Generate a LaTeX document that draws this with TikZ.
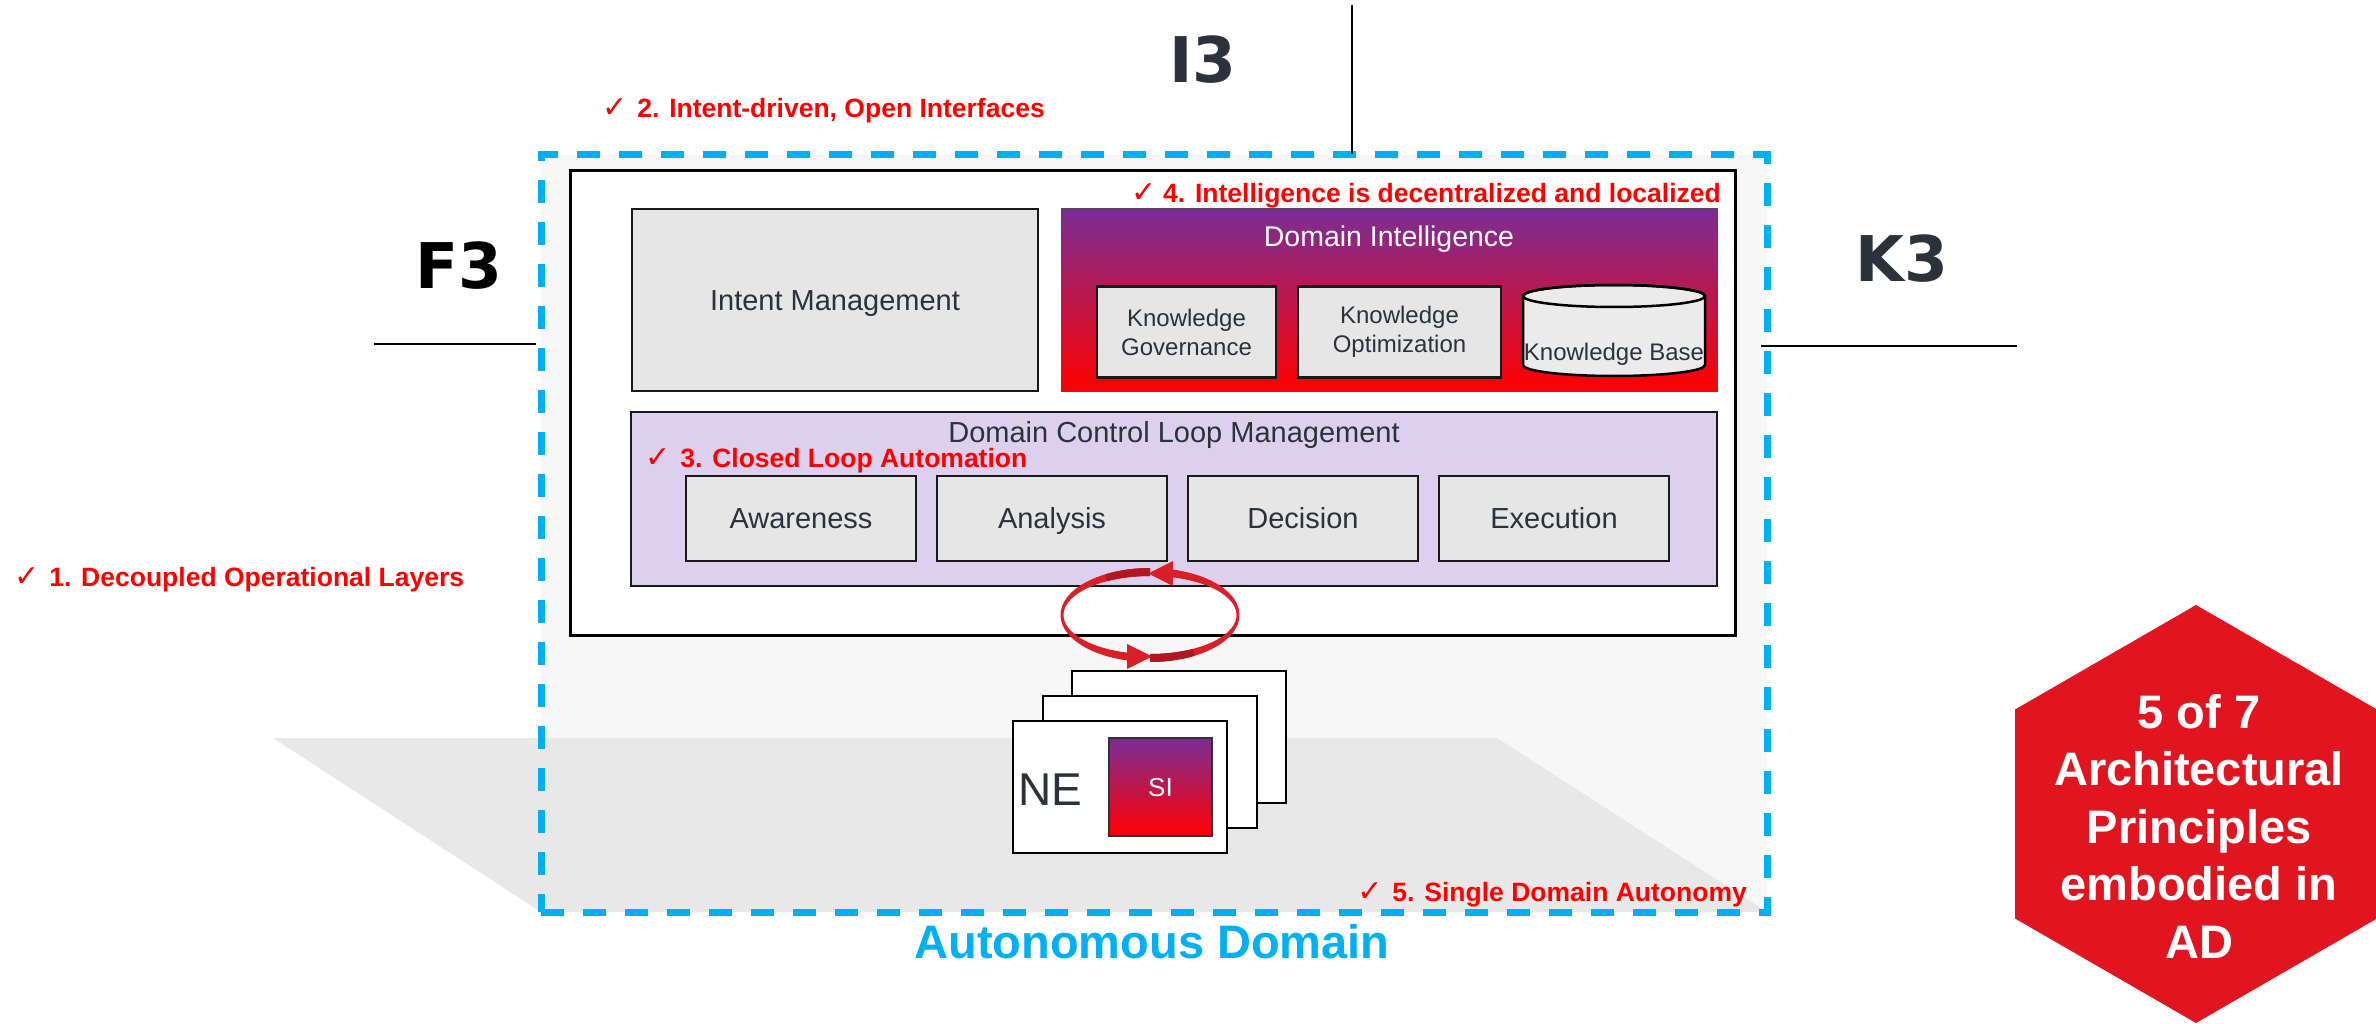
\documentclass[tikz,border=0pt]{standalone}
\usepackage{fontspec}
\setmainfont{Liberation Sans}
\newfontfamily\ckfont{DejaVu Sans}
\newfontfamily\heavyfont{DejaVu Sans}
\usetikzlibrary{arrows.meta}
\definecolor{adblue}{RGB}{0,176,240}
\definecolor{txtdark}{RGB}{43,50,60}
\definecolor{boxgray}{RGB}{230,230,230}
\definecolor{lav}{RGB}{221,208,238}
\definecolor{dipurple}{RGB}{123,45,150}
\definecolor{loopred}{RGB}{216,32,40}
\definecolor{loopdark}{RGB}{176,23,31}
\definecolor{hexred}{RGB}{225,21,32}
\definecolor{boxbg}{RGB}{247,247,247}
\definecolor{shadowgray}{RGB}{232,232,232}
\definecolor{cylgray}{RGB}{235,235,235}
\newcommand{\fsz}[2]{\fontsize{#1}{#2}\selectfont}
\newcommand{\ck}{{\ckfont\fontsize{30}{32}\selectfont ✓}}
% band segment of the loop: #1 start angle, #2 end angle, #3 colour
\newcommand{\bandseg}[3]{%
  \fill[#3] ([shift={(#1:89.5 and 47)}]lc) arc[start angle=#1,end angle=#2,x radius=89.5,y radius=47]
    -- ([shift={(#2:86.5 and 39)}]lc) arc[start angle=#2,end angle=#1,x radius=86.5,y radius=39] -- cycle;}
\tikzset{
  gbox/.style={draw=black!90, line width=2.5pt, fill=boxgray, text=txtdark, inner sep=0pt, font=\fsz{29}{35}, text height=20.8pt, text depth=0pt},
  kbox/.style={draw=black!90, line width=2.5pt, fill=boxgray, text=txtdark, inner sep=0pt, font=\fsz{24}{29}, align=center},
  wbox/.style={draw=black, line width=2.5pt, fill=white, inner sep=0pt},
  prin/.style={text=red, font=\bfseries\fsz{26.5}{32}, inner sep=0pt},
  bigl/.style={font=\heavyfont\bfseries\fsz{63}{70}, inner sep=0pt},
  conn/.style={draw=black, line width=2.5pt},
}
\begin{document}
\begin{tikzpicture}[x=1pt,y=-1pt]
\useasboundingbox (0,0) rectangle (2376,1024);
% autonomous domain background and shadow
\fill[boxbg] (541,155) rectangle (1767,912);
\fill[shadowgray] (273,738) -- (1497,738) -- (1767,912) -- (541,912) -- cycle;
\node[draw=adblue, line width=7pt, dash pattern=on 23pt off 19pt, minimum width=1226pt, minimum height=757pt, inner sep=0pt] (ad) at (1154,533.5) {};
\node[text=adblue, font=\bfseries\fsz{47}{55}, anchor=base, inner sep=0pt] (adl) at (1152,958) {Autonomous Domain};

% inner box
\node[wbox, line width=3pt, minimum width=1165pt, minimum height=464pt] (inner) at (1152.5,403) {};

% intent management
\node[gbox, minimum width=406pt, minimum height=182pt] (im) at (835,300) {Intent Management};

% domain intelligence
\node[draw=black!70, line width=1pt, top color=dipurple, bottom color=red, inner sep=0pt, minimum width=656pt, minimum height=182pt] (di) at (1389,300) {};
\node[text=white, font=\fsz{28.5}{34}, anchor=base, inner sep=0pt] (dititle) at (1389,247) {Domain Intelligence};
\node[kbox, minimum width=179pt, minimum height=91pt] (kg) at (1186.5,332) {Knowledge\\Governance};
\node[kbox, minimum width=203pt, minimum height=91pt] (ko) at (1399.5,332) {Knowledge\\Optimization};
\filldraw[fill=cylgray, draw=black, line width=2.5pt] (1523,296) -- (1523,365) arc[start angle=180,end angle=0,x radius=91,y radius=11] -- (1705,296) arc[start angle=0,end angle=-180,x radius=91,y radius=11] -- cycle;
\draw[black, line width=2.5pt] (1614,296) ellipse[x radius=91,y radius=11];
\node[text=txtdark, font=\fsz{24}{29}, inner sep=0pt, text height=17pt, text depth=0pt] (kb) at (1614,352) {Knowledge Base};

% domain control loop management
\node[draw=black!90, line width=2.5pt, fill=lav, inner sep=0pt, minimum width=1086pt, minimum height=174pt] (dclm) at (1174,499) {};
\node[text=txtdark, font=\fsz{29}{35}, anchor=base, inner sep=0pt] (dctitle) at (1174,442) {Domain Control Loop Management};
\node[gbox, minimum width=230pt, minimum height=85pt] (aw) at (801,518.5) {Awareness};
\node[gbox, minimum width=230pt, minimum height=85pt] (an) at (1052,518.5) {Analysis};
\node[gbox, minimum width=230pt, minimum height=85pt] (de) at (1303,518.5) {Decision};
\node[gbox, minimum width=230pt, minimum height=85pt] (ex) at (1554,518.5) {Execution};

% closed loop arrows (band drawn as an ellipse seen in perspective)
\coordinate (lc) at (1150,615);
\coordinate (ltip) at (1148,573.5);
\coordinate (btip) at (1152,656.5);
\bandseg{270}{105}{loopred}
\bandseg{270}{240}{loopdark}
\bandseg{90}{-75}{loopred}
\bandseg{90}{60}{loopdark}
\fill[loopred] (1127,644) -- (btip) -- (1127,669) -- cycle;
\fill[loopred] (1173,561) -- (ltip) -- (1173,586) -- cycle;

% network elements
\node[wbox, minimum width=214pt, minimum height=132pt] (ne3) at (1179,737) {};
\node[wbox, minimum width=214pt, minimum height=132pt] (ne2) at (1150,762) {};
\node[wbox, minimum width=214pt, minimum height=132pt] (ne1) at (1120,787) {};
\node[draw=black!80, line width=1.5pt, top color=dipurple, bottom color=red, minimum width=103pt, minimum height=98pt, inner sep=0pt, text=white, font=\fsz{26}{30}, text height=18.6pt, text depth=0pt] (si) at (1160.5,787) {SI};
\node[text=txtdark, font=\fsz{46}{50}, anchor=base west, inner sep=0pt] (ne) at (1018,805) {NE};

% reference points
\node[bigl, text=black, anchor=base] (f3) at (459,288) {F3};
\node[bigl, text=txtdark, anchor=base] (k3) at (1902,281) {K3};
\node[bigl, text=txtdark, anchor=base] (i3) at (1203,83) {I3};
\coordinate (f3a) at (374,344);
\coordinate (f3b) at (536,344);
\coordinate (k3a) at (1761,346);
\coordinate (k3b) at (2017,346);
\coordinate (i3a) at (1352,5);
\coordinate (i3b) at (1352,154);
\draw[conn] (f3a) -- (f3b);
\draw[conn] (k3a) -- (k3b);
\draw[conn] (i3a) -- (i3b);

% principles
\node[prin, anchor=base west] (p1) at (14,586) {\ck\hspace{10pt}1. Decoupled Operational Layers};
\node[prin, anchor=base west] (p2) at (602,118) {\ck\hspace{10pt}2. Intent-driven, Open Interfaces};
\node[prin, anchor=base west] (p3) at (645,467) {\ck\hspace{10pt}3. Closed Loop Automation};
\node[prin, anchor=base east] (p4) at (1721,203) {\ck\hspace{7pt}4. Intelligence is decentralized and localized};
\node[prin, anchor=base east] (p5) at (1747,901) {\ck\hspace{10pt}5. Single Domain Autonomy};

% hexagon badge
\fill[hexred] (2196,605) -- (2377,709.5) -- (2377,918.5) -- (2196,1023) -- (2015,918.5) -- (2015,709.5) -- cycle;
\node[text=white, font=\bfseries\fsz{47}{57.5}, align=center, inner sep=0pt] (hex) at (2199,826) {5 of 7\\Architectural\\Principles\\embodied in\\AD};
\end{tikzpicture}
\end{document}
